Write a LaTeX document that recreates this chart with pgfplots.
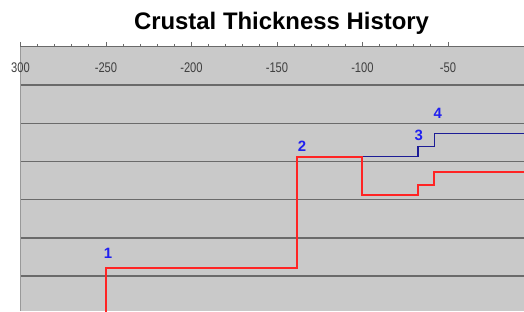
\documentclass[border=0pt]{standalone}
\usepackage{pgfplots}
\pgfplotsset{compat=1.18}
\usepackage{fontspec}
\setmainfont{Liberation Sans}
\definecolor{bggray}{HTML}{C9C9C9}
\definecolor{gridgray}{HTML}{6A6A6A}
\definecolor{redline}{HTML}{FF2424}
\definecolor{navyline}{HTML}{1C1C96}
\definecolor{lblblue}{HTML}{2020F0}
\begin{document}
\begin{tikzpicture}[x=1bp,y=1bp]
\useasboundingbox (0,0) rectangle (524,311);
\clip (0,0) rectangle (524,311);
\begin{axis}[
  at={(20.5bp,0bp)}, anchor=south west,
  scale only axis, width=503.5bp, height=264bp,
  xmin=-300, xmax=-5.5, ymin=0.086, ymax=7,
  axis background/.style={fill=bggray},
  axis x line*=top, axis y line*=left,
  axis line style={-},
  x axis line style={draw=gridgray, line width=1pt},
  y axis line style={draw=black!40, line width=1pt},
  xtick={-300,-250,-200,-150,-100,-50},
  xticklabels={300,-250,-200,-150,-100,-50},
  minor x tick num=4,
  tick align=outside,
  major tick length=5bp, minor tick length=3bp,
  x tick style={draw=gridgray, line width=0.8pt},
  xticklabel style={anchor=north, yshift=-17bp, font=\fontsize{14}{14}\selectfont, xscale=0.8, text=black!75},
  ytick={1,2,3,4,5,6}, yticklabels={},
  y tick style={draw=none},
  ymajorgrids, major grid style={draw=gridgray, line width=1.5pt},
  clip=true,
]
\addplot[navyline, line width=1.5pt] coordinates {
  (-100,4.13) (-67.5,4.13) (-67.5,4.39) (-58,4.39) (-58,4.73) (0,4.73)
};
\addplot[redline, line width=2pt] coordinates {
  (-250,0) (-250,1.21) (-138,1.21) (-138,4.13) (-100,4.13) (-100,3.13)
  (-67.5,3.13) (-67.5,3.39) (-58,3.39) (-58,3.73) (0,3.73)
};
\node[text=lblblue, font=\fontsize{15}{15}\selectfont\bfseries] at (axis cs:-248.8,1.60) {1};
\node[text=lblblue, font=\fontsize{15}{15}\selectfont\bfseries] at (axis cs:-135.4,4.39) {2};
\node[text=lblblue, font=\fontsize{15}{15}\selectfont\bfseries] at (axis cs:-67,4.68) {3};
\node[text=lblblue, font=\fontsize{15}{15}\selectfont\bfseries] at (axis cs:-55.9,5.26) {4};
\end{axis}
\node[anchor=base, font=\fontsize{24}{24}\selectfont\bfseries] at (281.5,282) {Crustal Thickness History};
\end{tikzpicture}
\end{document}
